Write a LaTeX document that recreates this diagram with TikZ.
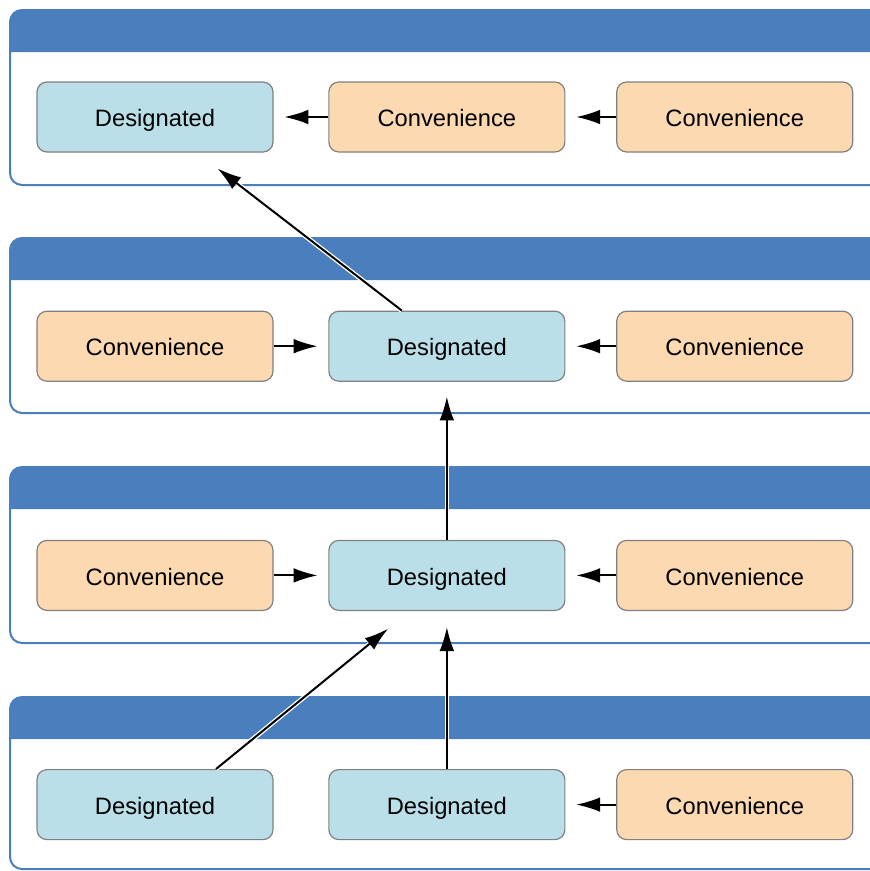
\documentclass[tikz,border=0pt]{standalone}
\usepackage{fontspec}
\setmainfont{Liberation Sans}
\usetikzlibrary{positioning,calc,arrows.meta}

\definecolor{panelblue}{RGB}{74,126,188}
\definecolor{desigfill}{RGB}{186,223,232}
\definecolor{convfill}{RGB}{252,217,177}
\definecolor{boxline}{RGB}{128,128,128}

\tikzset{
  init/.style={draw=boxline,line width=0.9pt,rounded corners=7.5pt,minimum width=177pt,minimum height=52.5pt,
    text height=16pt,text depth=1.5pt,font=\fontsize{17.8}{20}\selectfont},
  desig/.style={init,fill=desigfill},
  conv/.style={init,fill=convfill},
  flow/.style={-{Latex[length=18pt,width=11pt]},line width=1.5pt,preaction={draw=white,line width=3.5pt}},
  panelline/.style={draw=panelblue,line width=1.5pt,rounded corners=9pt}
}

\begin{document}
\begin{tikzpicture}[x=0.75pt,y=-0.75pt,node distance=118.5pt and 41pt]
        \clip (0,0) rectangle (870,871);

        % class panels
        \foreach \t/\b in {10/185,238/413,467/643,697/869}{
            \fill[panelblue,rounded corners=9pt] (10,\t+42) -- (10,\t) -- (900,\t) -- (900,\t+42);
            \draw[panelline] (900,\t) -- (10,\t) -- (10,\b) -- (900,\b);
        }

        \node[desig] (d1) at (155,117) {Designated};
        \node[conv] (c1a) [right=of d1] {Convenience};
        \node[conv] (c1b) [right=38pt of c1a] {Convenience};
        \node[conv] (c2a) [below=of d1] {Convenience};
        \node[desig] (d2) [right=of c2a] {Designated};
        \node[conv] (c2b) [right=38pt of d2] {Convenience};
        \node[conv] (c3a) [below=of c2a] {Convenience};
        \node[desig] (d3) [right=of c3a] {Designated};
        \node[conv] (c3b) [right=38pt of d3] {Convenience};
        \node[desig] (d4a) [below=of c3a] {Designated};
        \node[desig] (d4b) [right=of d4a] {Designated};
        \node[conv] (c4) [right=38pt of d4b] {Convenience};

        \path[flow,shorten >=8pt] (c1a) edge (d1)
            (c1b) edge (c1a)
            (c2a) edge (d2)
            (c2b) edge (d2)
            (c3a) edge (d3)
            (c3b) edge (d3)
            (c4) edge (d4b);
        \draw[flow,shorten >=11pt] (d3) -- (d2);
        \draw[flow,shorten >=12pt] (d4b) -- (d3);
        \draw[flow,shorten >=19.5pt] ($(d2.north)+(-45,0)$) -- ($(d1.south)+(42,0)$);
        \draw[flow,shorten >=21pt] ($(d4a.north)+(61,0)$) -- ($(d3.south)+(-37,0)$);
\end{tikzpicture}
\end{document}
